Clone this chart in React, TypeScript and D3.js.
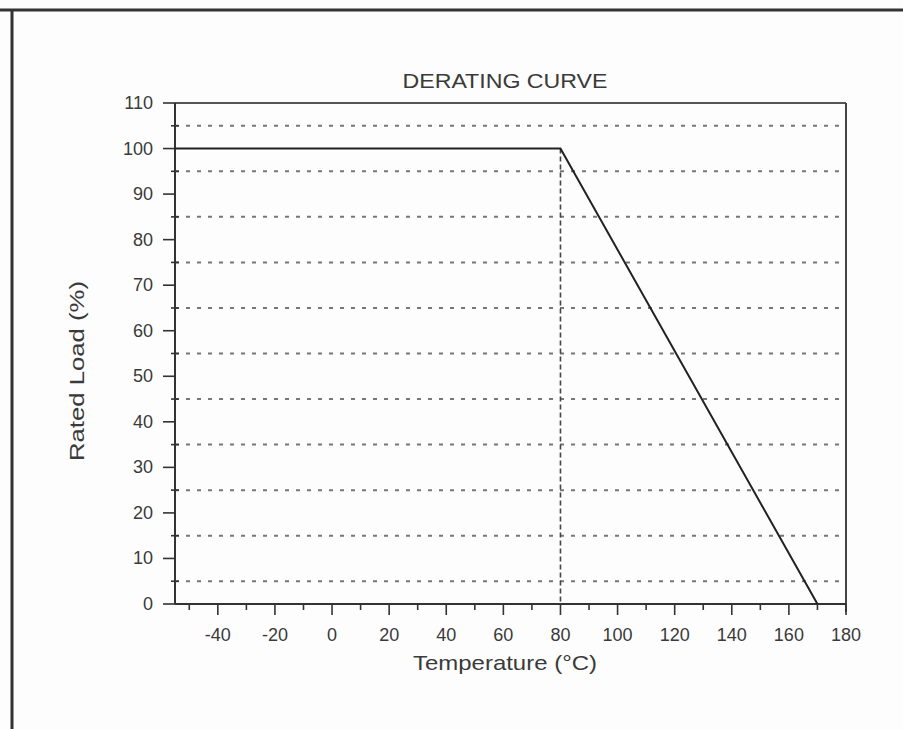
import React from "react";
import * as d3 from "d3";

const title = "DERATING CURVE";
const xLabel = "Temperature (°C)";
const yLabel = "Rated Load (%)";
const xDomain = [-55, 180];
const yDomain = [0, 110];
const xMajorTicks = [-40, -20, 0, 20, 40, 60, 80, 100, 120, 140, 160, 180];
const xMinorTicks = [-50, -30, -10, 10, 30, 50, 70, 90, 110, 130, 150, 170];
const yMajorTicks = [0, 10, 20, 30, 40, 50, 60, 70, 80, 90, 100, 110];
const yGridValues = [5, 15, 25, 35, 45, 55, 65, 75, 85, 95, 105];
const curveTemp = [-55, 80, 170];
const curveLoad = [100, 100, 0];
const kneeTemp = 80;

export default function App() {
  const W = 903, H = 729;
  const left = 175, right = 846, top = 103, bottom = 604;
  const x = d3.scaleLinear().domain(xDomain).range([left, right]);
  const y = d3.scaleLinear().domain(yDomain).range([bottom, top]);
  const pts = curveTemp.map((t, i) => [t, curveLoad[i]] as [number, number]);
  const line = d3.line<[number, number]>().x(d => x(d[0])).y(d => y(d[1]));
  const font = "'Liberation Sans', Arial, sans-serif";
  const txt = "#3a3a3a";
  const axisC = "#333";

  return (
    <div style={{ position: "absolute", left: 0, top: 0, width: W, height: H, background: "#fff" }}>
      <svg width={W} height={H} style={{ display: "block" }}>
        <rect x={0} y={0} width={W} height={H} fill="#fdfdfd" />
        {/* outer frame */}
        <line x1={0} x2={W} y1={10} y2={10} stroke="#333" strokeWidth={3} />
        <line x1={12} x2={12} y1={9} y2={H} stroke="#333" strokeWidth={3} />

        {/* title */}
        <text x={505} y={88} textAnchor="middle" fontFamily={font} fontSize={21} fill={txt}
          textLength={205} lengthAdjust="spacingAndGlyphs">{title}</text>

        {/* horizontal dotted gridlines */}
        {yGridValues.map(v => (
          <line key={"g" + v} x1={left} x2={right} y1={y(v)} y2={y(v)}
            stroke="#777" strokeWidth={2} strokeDasharray="4,7" />
        ))}

        {/* vertical dash line at knee */}
        <line x1={x(kneeTemp)} x2={x(kneeTemp)} y1={y(100)} y2={y(0)}
          stroke="#444" strokeWidth={1.6} strokeDasharray="5,3" />

        {/* plot box */}
        <line x1={left} x2={right} y1={top} y2={top} stroke="#555" strokeWidth={2} />
        <line x1={right} x2={right} y1={top} y2={bottom + 8} stroke="#444" strokeWidth={2} />
        <line x1={left} x2={left} y1={top} y2={bottom} stroke={axisC} strokeWidth={2} />
        <line x1={left} x2={right} y1={bottom} y2={bottom} stroke={axisC} strokeWidth={2} />

        {/* y ticks */}
        {yMajorTicks.map(v => (
          <g key={"yt" + v}>
            <line x1={left - 12} x2={left} y1={y(v)} y2={y(v)} stroke={axisC} strokeWidth={1.6} />
            <text x={153} y={y(v) + 6} textAnchor="end" fontFamily={font} fontSize={18} fill={txt}>{v}</text>
          </g>
        ))}
        {yGridValues.map(v => (
          <line key={"ym" + v} x1={left - 4} x2={left + 4} y1={y(v)} y2={y(v)} stroke={axisC} strokeWidth={1.6} />
        ))}

        {/* x ticks */}
        {xMajorTicks.map(v => (
          <g key={"xt" + v}>
            <line x1={x(v)} x2={x(v)} y1={bottom} y2={bottom + 11} stroke={axisC} strokeWidth={1.6} />
            <text x={x(v)} y={641} textAnchor="middle" fontFamily={font} fontSize={18} fill={txt}>{v}</text>
          </g>
        ))}
        {xMinorTicks.map(v => (
          <line key={"xm" + v} x1={x(v)} x2={x(v)} y1={bottom} y2={bottom + 6} stroke={axisC} strokeWidth={1.6} />
        ))}

        {/* axis labels */}
        <text x={505} y={670} textAnchor="middle" fontFamily={font} fontSize={21} fill={txt}
          textLength={184} lengthAdjust="spacingAndGlyphs">{xLabel}</text>
        <text transform={`translate(84,${371}) rotate(-90)`} textAnchor="middle" fontFamily={font} fontSize={20} fill={txt}
          textLength={180} lengthAdjust="spacingAndGlyphs">{yLabel}</text>

        {/* derating curve */}
        <path d={line(pts) || ""} fill="none" stroke="#222" strokeWidth={2} />
      </svg>
    </div>
  );
}
